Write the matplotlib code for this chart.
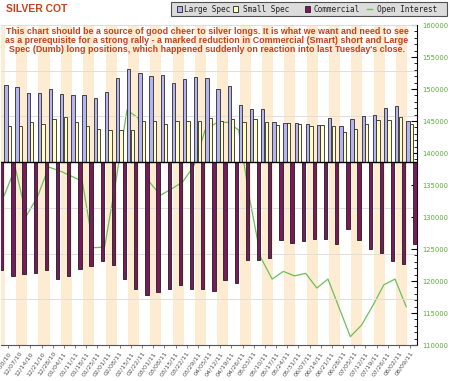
import numpy as np
import matplotlib.pyplot as plt
from matplotlib.patches import Rectangle
from matplotlib.lines import Line2D
from matplotlib.ticker import MultipleLocator, StrMethodFormatter

W, H = 450, 381

weeks = ['11/23/10', '11/30/10', '12/07/10', '12/14/10', '12/21/10', '12/28/10',
         '01/04/11', '01/11/11', '01/18/11', '01/25/11', '02/01/11', '02/08/11',
         '02/15/11', '02/22/11', '03/01/11', '03/08/11', '03/15/11', '03/22/11',
         '03/29/11', '04/05/11', '04/12/11', '04/19/11', '04/26/11', '05/03/11',
         '05/10/11', '05/17/11', '05/24/11', '05/31/11', '06/07/11', '06/14/11',
         '06/21/11', '06/28/11', '07/05/11', '07/12/11', '07/19/11', '07/26/11',
         '08/02/11', '08/09/11']

nan = np.nan
large_spec = [nan, 33700, 32700, 30100, 30100, 31800, 29800, 29200, 29400, 28000,
              30500, 36600, 40600, 38800, 37600, 38200, 34700, 36200, 37100, 36600,
              32200, 33400, 24800, 23200, 23200, 17400, 17300, 17200, 16500, 16300,
              19100, 15800, 18700, 20300, 20600, 23600, 24600, 18200]
small_spec = [nan, 15600, 15600, 17600, 16600, 18700, 19600, 17400, 15600, 14600,
              13900, 13900, 13900, 18200, 18200, 16600, 18200, 18200, 17900, 19100,
              18200, 18700, 17400, 18800, 17600, 16200, 17200, 16500, 15900, 16200,
              15900, 13000, 14300, 16500, 18500, 18500, 19600, 16500]
commercial = [-47000, -49900, -48900, -48300, -47300, -51300, -50000, -46900, -45600,
              -43400, -45000, -51300, -55300, -58200, -56700, -55600, -53600, -55600,
              -55600, -56400, -51600, -52800, -42700, -42700, -41800, -34100, -35200,
              -34600, -33700, -33700, -35900, -29400, -34100, -37800, -39700, -43200,
              -44600, -35600]
open_interest = [139400, 133300, 137700, 130200, 133200, 137800, 137200, 136400, 135600,
                 125200, 125300, 135500, 146700, 145500, 135500, 133400, 134400, 135500,
                 138000, 143600, 144700, 144800, 143600, 132700, 123600, 120300, 121500,
                 120800, 121200, 118900, 120300, 115800, 111300, 113100, 116100, 119400,
                 120300, 116000]

note = ["This chart should be a source of good cheer to silver longs. It is what we want and need to see",
        "as a prerequisite for a strong rally - a marked reduction in Commercial (Smart) short and Large",
        "Spec (Dumb) long positions, which happened suddenly on reaction into last Tuesday's close."]

red = '#c8401e'
x = np.arange(len(weeks))

fig = plt.figure(figsize=(W / 100, H / 100), dpi=100)
ax = fig.add_axes([1 / W, 36 / H, 416 / W, 320 / H])
ax.set_xlim(0.373, 37.62)
ax.set_ylim(110000, 160000)

# alternating background bands
for m in range(0, len(weeks) + 1):
    if m % 2 == 0:
        ax.axvspan(m - 0.27, m + 0.73, color='#fdebd2', lw=0, zorder=0)

ax.plot(x - 0.35, open_interest, color='#6cbf5a', lw=0.9, zorder=2)

axb = ax.twinx()
axb.set_ylim(-80000, 60000)
axb.set_yticks([])
for s in axb.spines.values():
    s.set_visible(False)
for v in range(-60000, 60001, 20000):
    if v != 0:
        axb.axhline(v, color='#dedede', lw=0.7, zorder=0.5)

bw = 0.3
axb.bar(x - 0.19, large_spec, width=bw, color='#b4b4f0', edgecolor='#2a2a2a', lw=0.6, zorder=2)
axb.bar(x + 0.12, small_spec, width=bw, color='#ffffc4', edgecolor='#2a2a2a', lw=0.6, zorder=2)
axb.bar(x + 0.44, commercial, width=bw, color='#7a1a5c', edgecolor='#1e1e1e', lw=0.6, zorder=2)
axb.axhline(0, color='black', lw=1.0, zorder=3)

ax.yaxis.tick_right()
ax.yaxis.set_major_locator(MultipleLocator(5000))
ax.yaxis.set_minor_locator(MultipleLocator(1000))
ax.yaxis.set_major_formatter(StrMethodFormatter('{x:.0f}'))
ax.tick_params(axis='y', which='major', direction='in', length=4, width=0.8,
               labelsize=4.9, labelcolor='#5aaa3c', pad=4)
ax.tick_params(axis='y', which='minor', direction='in', length=2, width=0.6)
ax.set_xticks(x[1:])
ax.set_xticklabels(weeks[1:], rotation=55, ha='right', va='top',
                   rotation_mode='anchor', fontsize=4.6, color='#555555')
ax.tick_params(axis='x', length=2, width=0.6, color='#666666', pad=2)
for s in ['top', 'left']:
    ax.spines[s].set_visible(False)
ax.spines['right'].set_visible(True)
ax.spines['right'].set_linewidth(0.8)
ax.spines['bottom'].set_color('#555555')
ax.spines['bottom'].set_linewidth(0.8)

for i, line in enumerate(note):
    fig.text(207 / W, 1 - (31.5 + 9.2 * i) / H, line, ha='center', va='center',
             fontsize=6.4, weight='bold', color=red, family='Liberation Sans')

fig.text(6 / W, 1 - 9.5 / H, 'SILVER COT', fontsize=7.5, weight='bold', color=red,
         family='Liberation Sans', va='center')

# legend box
def fx(px):
    return px / W

def fy(py):
    return 1 - py / H

fig.patches.append(Rectangle((fx(171), fy(16)), fx(276), 14 / H, transform=fig.transFigure,
                             facecolor='#dcdcdc', edgecolor='#505050', lw=0.8))
items = [(179, '#b4b4f0', 'Large Spec', 184), (236, '#ffffc4', 'Small Spec', 243),
         (307, '#7a1a5c', 'Commercial', 314)]
for mx, col, lab, tx in items:
    fig.patches.append(Rectangle((fx(mx - 2.5), fy(11.5)), 5 / W, 5 / H, transform=fig.transFigure,
                                 facecolor=col, edgecolor='#222222', lw=0.6))
    fig.text(fx(tx), fy(9.2), lab, fontsize=5.6, family='DejaVu Sans Mono', va='center', color='#222222')
fig.lines.append(Line2D([fx(367), fx(372)], [fy(9), fy(9)], transform=fig.transFigure,
                        color='#6cbf5a', lw=1.0))
fig.text(fx(377), fy(9.2), 'Open Interest', fontsize=5.6, family='DejaVu Sans Mono',
         va='center', color='#222222')

plt.savefig('out.png', dpi=100)
